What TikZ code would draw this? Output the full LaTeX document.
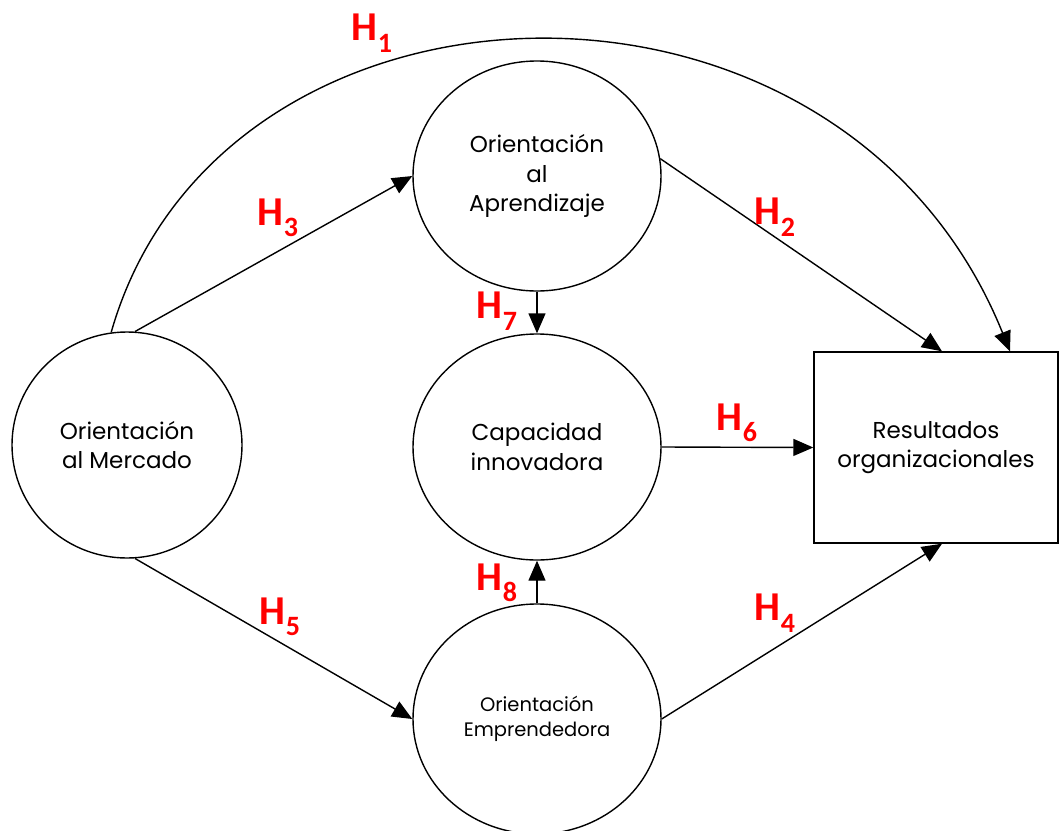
\documentclass[tikz,border=0pt]{standalone}
\usepackage{fontspec}
\setmainfont{Poppins}
\newfontfamily\hfont{Carlito}
\usetikzlibrary{shapes.geometric,arrows.meta,calc}

% hypothesis label: bold red H with a lowered index
\newcommand{\hyplabel}[1]{{\hfont\bfseries\fontsize{41}{41}\selectfont H\raisebox{-0.28em}{\fontsize{28}{28}\selectfont #1}}}

\tikzset{
  construct/.style={ellipse, draw, line width=1.4pt, inner sep=0pt, align=center,
    font=\fontsize{23}{29.5}\selectfont},
  outcome/.style={rectangle, draw, line width=1.4pt, inner sep=0pt, align=center,
    font=\fontsize{23}{29}\selectfont},
  link/.style={line width=1.4pt, -{Triangle[length=20pt,width=17pt]}},
  hyp/.style={text=red, inner sep=0pt}
}

\begin{document}
\begin{tikzpicture}[x=1pt, y=-1pt]
\useasboundingbox (0,0) rectangle (1060,830);

\node[construct, minimum width=230pt, minimum height=226pt] (om) at (127,445)
  {Orientación\\al Mercado};
\node[construct, minimum width=248pt, minimum height=230pt] (oa) at (537,176)
  {Orientación\\al\\Aprendizaje};
\node[construct, minimum width=248pt, minimum height=226pt] (ci) at (537,447)
  {Capacidad\\innovadora};
\node[construct, minimum width=248pt, minimum height=230pt,
  font=\fontsize{19.5}{25}\selectfont] (oe) at (537,719)
  {Orientación\\Emprendedora};
\node[outcome, minimum width=244pt, minimum height=191pt] (ro) at (936,447.5)
  {Resultados\\organizacionales};

% paths between the constructs
\draw[link] (om.98) .. controls (220,-50) and (840,-70) .. ([xshift=74pt]ro.north);
\draw[link] (om.86) -- (oa.west);
\draw[link] (oa.8) -- ([xshift=6pt]ro.north);
\draw[link] (oa.south) -- (ci.north);
\draw[link] (ci.east) -- (ro.west);
\draw[link] (oe.north) -- (ci.south);
\draw[link] (om.274) -- (oe.west);
\draw[link] (oe.east) -- ([xshift=6pt]ro.south);

% hypothesis labels
\node[hyp] (h1) at (372,33) {\hyplabel{1}};
\node[hyp] (h3) at (278,218) {\hyplabel{3}};
\node[hyp] (h2) at (775,217) {\hyplabel{2}};
\node[hyp] (h7) at (497,311) {\hyplabel{7}};
\node[hyp] (h6) at (737,423) {\hyplabel{6}};
\node[hyp] (h8) at (497,583) {\hyplabel{8}};
\node[hyp] (h5) at (280,617) {\hyplabel{5}};
\node[hyp] (h4) at (775,613) {\hyplabel{4}};
\end{tikzpicture}
\end{document}
